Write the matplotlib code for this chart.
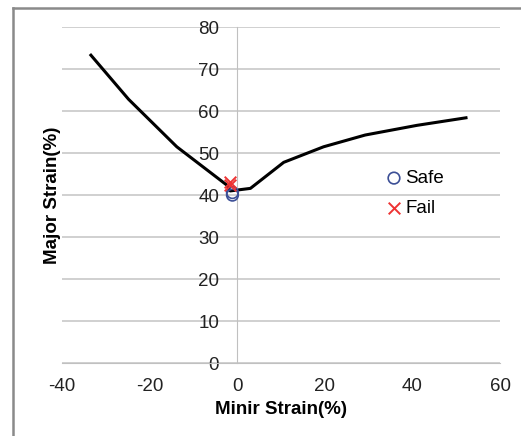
import matplotlib.pyplot as plt
from matplotlib.lines import Line2D

# forming limit curve
flc_minor = [-33.4, -24.8, -13.8, -2.4, -1.6, 3.0, 10.6, 19.7, 29.2, 41.0, 52.2]
flc_major = [73.3, 62.8, 51.5, 42.4, 41.0, 41.6, 47.8, 51.5, 54.3, 56.6, 58.4]

# test points
safe_minor = [-1.1, -1.1]
safe_major = [40.0, 40.6]
fail_minor = [-1.6, -1.6]
fail_major = [42.3, 43.1]

x_ticks = [-40, -20, 0, 20, 40, 60]
y_ticks = [0, 10, 20, 30, 40, 50, 60, 70, 80]

plt.rcParams['font.family'] = ['Liberation Sans', 'DejaVu Sans']
plt.rcParams['axes.unicode_minus'] = False

fig = plt.figure(figsize=(5.21, 4.36), dpi=100)
ax = fig.add_axes([0.119, 0.167, 0.841, 0.771])

ax.plot(flc_minor, flc_major, color='black', lw=2.2)
ax.scatter(safe_minor, safe_major, marker='o', s=70, facecolors='none',
           edgecolors='#3c4f96', linewidths=1.2, label='Safe', zorder=3)
ax.scatter(fail_minor, fail_major, marker='x', s=70, color='#ee3333',
           linewidths=1.4, label='Fail', zorder=3)

ax.set_xlim(-40, 60)
ax.set_ylim(0, 80)
ax.set_xticks(x_ticks)
ax.set_yticks(y_ticks)

ax.spines['left'].set_position(('data', 0))
ax.spines['left'].set_color('#c0c0c0')
ax.spines['bottom'].set_color('#c0c0c0')
ax.spines['top'].set_visible(False)
ax.spines['right'].set_visible(False)
ax.tick_params(length=0, labelsize=13.5, colors='#222222')
ax.tick_params(axis='y', pad=13)
ax.tick_params(axis='x', pad=11)
ax.grid(axis='y', color='#c8c8c8', lw=1.2)
ax.set_axisbelow(True)

ax.set_xlabel('Minir Strain(%)', fontsize=13.5, fontweight='bold', labelpad=4)
ax.set_ylabel('Major Strain(%)', fontsize=13.5, fontweight='bold')
ax.yaxis.set_label_coords(-0.003, 0.5)

ax.legend(loc='upper left', bbox_to_anchor=(0.732, 0.575), frameon=False,
          fontsize=13.5, handlelength=1.2, handletextpad=0.0,
          labelspacing=0.68, borderpad=0, borderaxespad=0)

# chart border
fig.add_artist(Line2D([0.025, 0.025], [0, 0.982], color='#8a8a8a', lw=1.8))
fig.add_artist(Line2D([0.025, 1], [0.982, 0.982], color='#8a8a8a', lw=1.8))

fig.savefig('out.png', dpi=100)
